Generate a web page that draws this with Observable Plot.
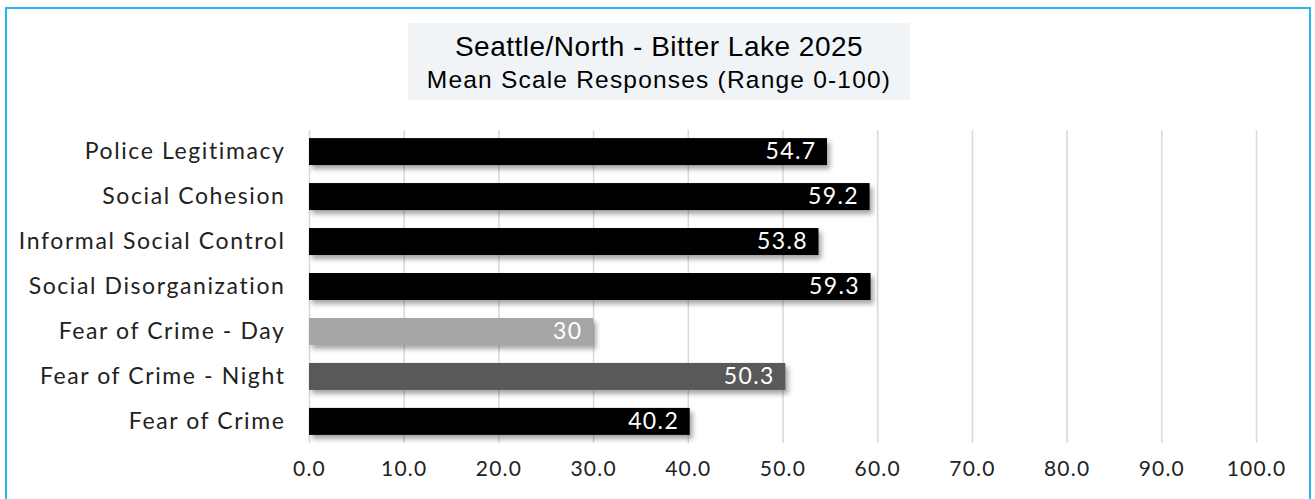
<!DOCTYPE html>
<html>
<head>
<meta charset="utf-8">
<script src="https://cdn.jsdelivr.net/npm/d3@7"></script>
<script src="https://cdn.jsdelivr.net/npm/@observablehq/plot@0.6"></script>
<style>
  html, body { margin: 0; padding: 0; background: #fff; overflow: hidden; }
  #frame {
    position: absolute; left: 5px; top: 7px; width: 1302px; height: 520px;
    border: 2px solid #2bb5ee; border-bottom: none; background: #fff;
  }
  #title {
    position: absolute; left: 401px; top: 14px; width: 502px; height: 77px;
    background: #f1f4f7; text-align: center;
    font-family: "Liberation Sans", Arial, sans-serif; color: #000;
  }
  #title .t1 { font-size: 28px; line-height: 32px; padding-top: 8px; letter-spacing: 0.5px; }
  #title .t2 { font-size: 24.5px; line-height: 30px; padding-top: 2px; letter-spacing: 1.2px; }
  #chart { position: absolute; left: 0; top: 96px; }
</style>
</head>
<body>
<div id="frame">
  <div id="title">
    <div class="t1">Seattle/North - Bitter Lake 2025</div>
    <div class="t2">Mean Scale Responses (Range 0-100)</div>
  </div>
  <div id="chart"></div>
</div>
<script>
const categories = ["Police Legitimacy", "Social Cohesion", "Informal Social Control", "Social Disorganization", "Fear of Crime - Day", "Fear of Crime - Night", "Fear of Crime"];
const values = [54.7, 59.2, 53.8, 59.3, 30, 50.3, 40.2];
const valueLabels = ["54.7", "59.2", "53.8", "59.3", "30", "50.3", "40.2"];
const barColors = ["#000000", "#000000", "#000000", "#000000", "#a6a6a6", "#595959", "#000000"];
const xTicks = [0, 10, 20, 30, 40, 50, 60, 70, 80, 90, 100];

const data = categories.map((c, i) => ({category: c, value: values[i], label: valueLabels[i], color: barColors[i]}));

const plot = Plot.plot({
  width: 1302,
  height: 394,
  marginLeft: 302,
  marginRight: 53,
  marginTop: 25,
  marginBottom: 56,
  style: {fontFamily: "Lato, 'Open Sans', sans-serif", fontSize: "21px", color: "#222", background: "transparent"},
  x: {domain: [0, 100], ticks: xTicks, tickFormat: d => d.toFixed(1), label: null, tickSize: 0, tickPadding: 18},
  y: {domain: categories, label: null, paddingInner: 0.4, paddingOuter: 0.18, round: false, tickSize: 0, tickPadding: 24},
  marks: [
    Plot.gridX(xTicks, {stroke: "#d9d9d9", strokeOpacity: 1, strokeWidth: 1.5}),
    Plot.barX(data, {x: "value", y: "category", fill: "color"}),
    Plot.text(data, {x: "value", y: "category", text: "label", fill: "#fff", textAnchor: "end", dx: -11, fontSize: 23}),
    Plot.axisX({ticks: xTicks, tickFormat: d => d.toFixed(1), tickSize: 0, tickPadding: 18, label: null}),
    Plot.axisY({tickSize: 0, tickPadding: 24, label: null, fontSize: 23})
  ]
});
document.getElementById("chart").appendChild(plot);
const svg = d3.select(plot);
svg.selectAll('g[aria-label="bar"]').style("filter", "drop-shadow(3px 4px 2.5px rgba(0,0,0,0.35))");
svg.selectAll('g[aria-label="y-axis tick label"] text').style("letter-spacing", "1.6px");
svg.selectAll('g[aria-label="x-axis tick label"] text').style("letter-spacing", "1.2px");
svg.selectAll('g[aria-label="text"] text').style("letter-spacing", "1.4px");
</script>
</body>
</html>
